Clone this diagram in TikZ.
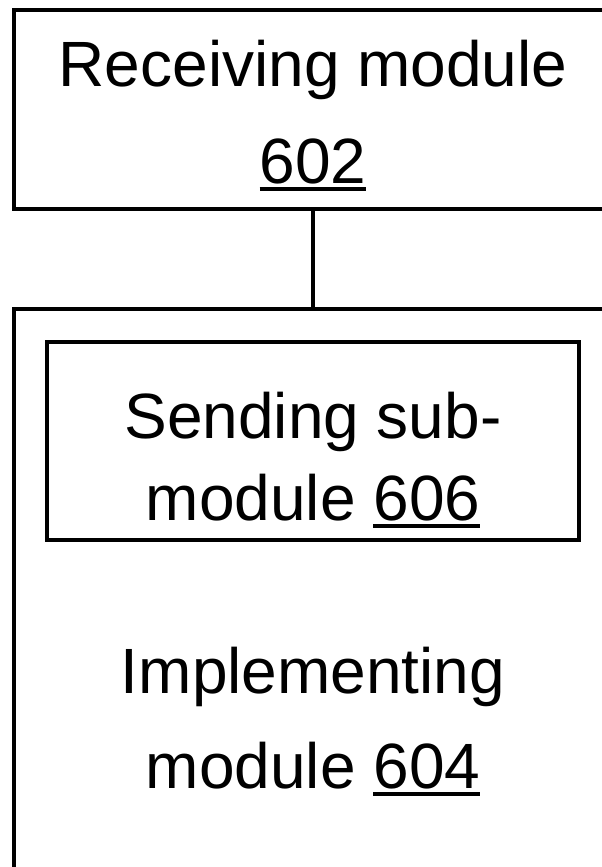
\documentclass[tikz,border=0pt]{standalone}
\usepackage{fontspec}
\setmainfont{Liberation Sans}
\newcommand\ulnum[1]{\setbox0\hbox{#1}\rlap{\rule[-8pt]{\wd0}{4.5pt}}\box0}
\begin{document}
\begin{tikzpicture}[x=1pt,y=-1pt,
  box/.style={draw=black,line width=4.5pt,inner sep=0pt,outer sep=0pt},
  txt/.style={inner sep=0pt,anchor=base,font=\fontsize{64}{64}\selectfont}]
\useasboundingbox (0,0) rectangle (602,867);
\clip (0,0) rectangle (602,867);
\fill[white] (0,0) rectangle (602,867);
% boxes
\node[box,minimum width=598pt,minimum height=199pt] (recv) at (313,109.5) {};
\node[box,minimum width=598pt,minimum height=591pt] (impl) at (313,604.5) {};
\node[box,minimum width=532pt,minimum height=198pt] (send) at (313,441) {};
% connector
\draw[line width=4.5pt] (recv.south) -- (impl.north);
% texts
\node[txt] (recvA) at (313,86) {Receiving module};
\node[txt] (recvB) at (313,183) {\ulnum{602}};
\node[txt] (sendA) at (313,438) {Sending sub-};
\node[txt] (sendB) at (313,520) {module \ulnum{606}};
\node[txt] (implA) at (313,693) {Implementing};
\node[txt] (implB) at (313,788) {module \ulnum{604}};
\end{tikzpicture}
\end{document}
